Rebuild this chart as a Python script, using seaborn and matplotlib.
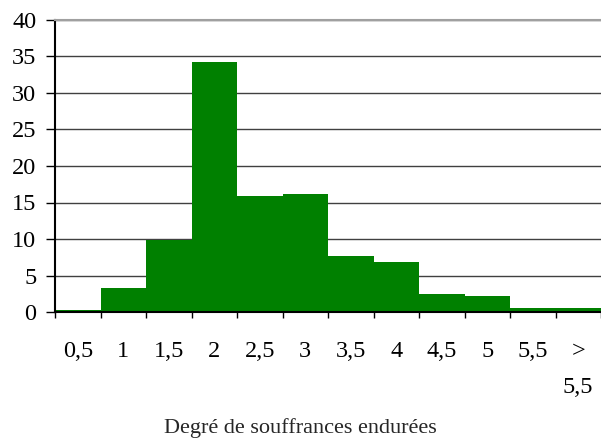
import numpy as np
import pandas as pd
import matplotlib
matplotlib.use("Agg")
import matplotlib.pyplot as plt
import seaborn as sns

# =====================
# DATA
# =====================
categories = ["0,5", "1", "1,5", "2", "2,5", "3", "3,5", "4", "4,5", "5", "5,5", ">\n5,5"]
values = [0.3, 3.3, 9.9, 34.2, 15.9, 16.2, 7.7, 6.9, 2.5, 2.2, 0.6, 0.6]
y_ticks = [0, 5, 10, 15, 20, 25, 30, 35, 40]
x_title = "Degré de souffrances endurées"

df = pd.DataFrame({"cat": categories, "val": values})

# =====================
# STYLE
# =====================
sns.set_theme(style="white")
plt.rcParams["font.family"] = ["Liberation Serif", "DejaVu Serif"]

fig = plt.figure(figsize=(6.01, 4.43), dpi=100)
ax = fig.add_axes([55 / 601, 1 - 312 / 443, 546 / 601, 292 / 443])

sns.barplot(data=df, x="cat", y="val", order=categories, color="#008000",
            saturation=1, width=1.0, edgecolor="none", linewidth=0, ax=ax)

ax.set_xlim(-0.5, len(categories) - 0.5)
ax.set_ylim(0, 40)
ax.set_yticks(y_ticks)
ax.set_yticklabels([str(t) for t in y_ticks], fontsize=17.5, color="black")

# labels centered on bars, tick marks on bar edges
ax.set_xticks(np.arange(len(categories)))
ax.set_xticklabels(categories, fontsize=17.5, color="black", linespacing=1.9, va="top")
ax.set_xticks(np.arange(len(categories) + 1) - 0.5, minor=True)
ax.tick_params(axis="x", which="major", length=0, pad=21)
ax.tick_params(axis="x", which="minor", length=4.5, width=1, color="black", direction="out", bottom=True)
ax.tick_params(axis="y", which="major", length=6.5, width=1, color="black", direction="out", left=True, pad=7)

ax.set_axisbelow(True)
ax.yaxis.grid(True, color="#404040", linewidth=1)
ax.xaxis.grid(False)

for side in ["left", "bottom"]:
    ax.spines[side].set_color("black")
    ax.spines[side].set_linewidth(1.5)
ax.spines["right"].set_visible(False)
ax.spines["top"].set_color("#a0a0a0")
ax.spines["top"].set_linewidth(1.5)

ax.set_xlabel("")
ax.set_ylabel("")

fig.text(300 / 601, 1 - 428 / 443, x_title, ha="center", va="center", fontsize=16)

fig.savefig("out.png", dpi=100)
